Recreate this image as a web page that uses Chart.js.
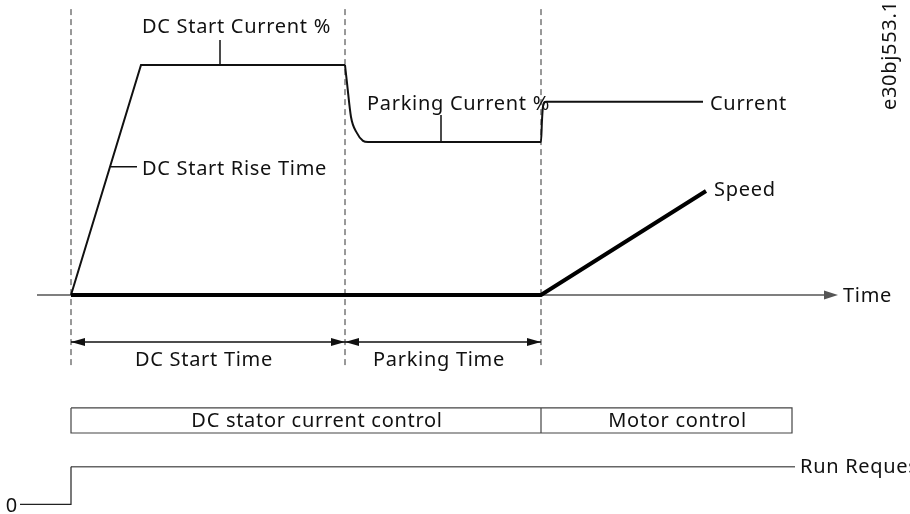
<!DOCTYPE html>
<html>
<head>
<meta charset="utf-8">
<script src="https://cdn.jsdelivr.net/npm/chart.js@4.4.0/dist/chart.umd.min.js"></script>
<style>
  body { margin: 0; background: #fff; }
  canvas { display: block; }
</style>
</head>
<body>
<canvas id="chart" width="910" height="514"></canvas>
<script>
// time in s (0 = run request), level in % of DC start current
const phaseEdges = [0, 2.74, 4.70];
const phaseNames = ["DC Start Time", "Parking Time"];

const riseTime = [0, 0.70, 2.74];
const riseLevel = [0, 100, 100];

const parkTime = [2.74, 2.76, 2.80, 2.86, 2.92, 2.97, 4.70, 4.71, 4.72, 4.75, 6.32];
const parkLevel = [100, 92.2, 77.4, 70.4, 67.0, 66.5, 66.5, 76, 82, 84, 84];

const speedTime = [0, 4.70, 6.35];
const speedLevel = [0, 0, 45.2];

const stateEdges = [0, 4.70, 7.21];
const stateNames = ["DC stator current control", "Motor control"];

// run request signal: low (0) before t = 0, high after
const runTime = [-0.51, 0, 0, 7.24];
const runLevel = [-91.0, -91.0, -74.65, -74.65];

// row levels of the lower part of the diagram
const axisEnd = 7.67;
const dashTop = 124.3, dashBottom = -31.7;
const dimLevel = -20.4;
const boxTop = -49.1, boxBottom = -60;

const xy = (ts, vs) => ts.map((t, i) => ({ x: t, y: vs[i] }));

const dashPts = [];
phaseEdges.forEach(t => {
  dashPts.push({ x: t, y: dashTop }, { x: t, y: dashBottom }, { x: t, y: null });
});

const boxPts = [
  { x: stateEdges[0], y: boxTop }, { x: stateEdges[2], y: boxTop },
  { x: stateEdges[2], y: boxBottom }, { x: stateEdges[0], y: boxBottom },
  { x: stateEdges[0], y: boxTop }, { x: null, y: null },
  { x: stateEdges[1], y: boxTop }, { x: stateEdges[1], y: boxBottom }
];

const leaderPts = [
  { x: 1.49, y: 100 }, { x: 1.49, y: 110.9 }, { x: null, y: null },
  { x: 0.397, y: 55.8 }, { x: 0.66, y: 55.8 }, { x: null, y: null },
  { x: 3.70, y: 66.5 }, { x: 3.70, y: 78.3 }
];

const texts = [
  { text: "DC Start Current %", t: 1.655, v: 113.8, align: "center" },
  { text: "DC Start Rise Time", t: 0.71, v: 52.2, align: "left" },
  { text: "Parking Current %", t: 2.96, v: 80.4, align: "left" },
  { text: "Current", t: 6.39, v: 80.4, align: "left" },
  { text: "Speed", t: 6.43, v: 43.0, align: "left" },
  { text: "Time", t: 7.72, v: -2.9, align: "left" },
  { text: "Run Request", t: 7.29, v: -77.5, align: "left" },
  { text: "0", t: -0.53, v: -94.3, align: "right" }
];

const annotate = {
  id: "annotate",
  afterDatasetsDraw(chart) {
    const { ctx, scales: { x, y } } = chart;
    const px = t => x.getPixelForValue(t);
    const py = v => y.getPixelForValue(v);

    const arrow = (tx, ty, dir, len, half) => {
      ctx.beginPath();
      ctx.moveTo(tx, ty);
      ctx.lineTo(tx - dir * len, ty - half);
      ctx.lineTo(tx - dir * len, ty + half);
      ctx.closePath();
      ctx.fill();
    };

    ctx.save();
    ctx.fillStyle = "#555";
    arrow(px(axisEnd), py(0), 1, 14, 4.5);

    ctx.fillStyle = "#111";
    for (let i = 0; i < phaseNames.length; i++) {
      arrow(px(phaseEdges[i]), py(dimLevel), -1, 14, 4);
      arrow(px(phaseEdges[i + 1]), py(dimLevel), 1, 14, 4);
    }

    ctx.font = '20px "Noto Sans"';
    ctx.letterSpacing = "0.7px";
    ctx.textBaseline = "alphabetic";
    texts.forEach(l => {
      ctx.textAlign = l.align;
      ctx.fillText(l.text, px(l.t), py(l.v));
    });

    ctx.textAlign = "center";
    phaseNames.forEach((n, i) => {
      ctx.fillText(n, px((phaseEdges[i] + phaseEdges[i + 1]) / 2 - 0.04), py(-30.7));
    });
    stateNames.forEach((n, i) => {
      ctx.fillText(n, px((stateEdges[i] + stateEdges[i + 1]) / 2 + 0.11), py(-57.3));
    });

    ctx.translate(px(8.25), py(80.4));
    ctx.rotate(-Math.PI / 2);
    ctx.textAlign = "left";
    ctx.fillText("e30bj553.1", 0, 0);
    ctx.restore();
  }
};

const line = (data, color, width, extra) => Object.assign({
  data: data,
  showLine: true,
  borderColor: color,
  borderWidth: width,
  pointRadius: 0,
  fill: false,
  spanGaps: false
}, extra || {});

new Chart(document.getElementById("chart"), {
  type: "scatter",
  data: {
    datasets: [
      line(xy(speedTime, speedLevel), "#000", 4),
      line(xy(riseTime, riseLevel), "#111", 2),
      line(xy(parkTime, parkLevel), "#111", 2, { cubicInterpolationMode: "monotone" }),
      line(leaderPts, "#111", 1.5),
      line([{ x: -0.34, y: 0 }, { x: axisEnd - 0.1, y: 0 }], "#555", 1.5),
      line(xy([phaseEdges[0], phaseEdges[2]], [dimLevel, dimLevel]), "#111", 1.5),
      line(dashPts, "#333", 1, { borderDash: [6, 4] }),
      line(boxPts, "#444", 1.2),
      line(xy(runTime.slice(0, 3), runLevel.slice(0, 3)), "#222", 1.2),
      line(xy(runTime.slice(2), runLevel.slice(2)), "#666", 1.5)
    ]
  },
  options: {
    responsive: false,
    animation: false,
    layout: { padding: 0 },
    plugins: {
      legend: { display: false },
      tooltip: { enabled: false }
    },
    scales: {
      x: { type: "linear", display: false, min: -0.71, max: 8.39 },
      y: { type: "linear", display: false, min: -95.22, max: 128.26 }
    }
  },
  plugins: [annotate]
});
</script>
</body>
</html>
